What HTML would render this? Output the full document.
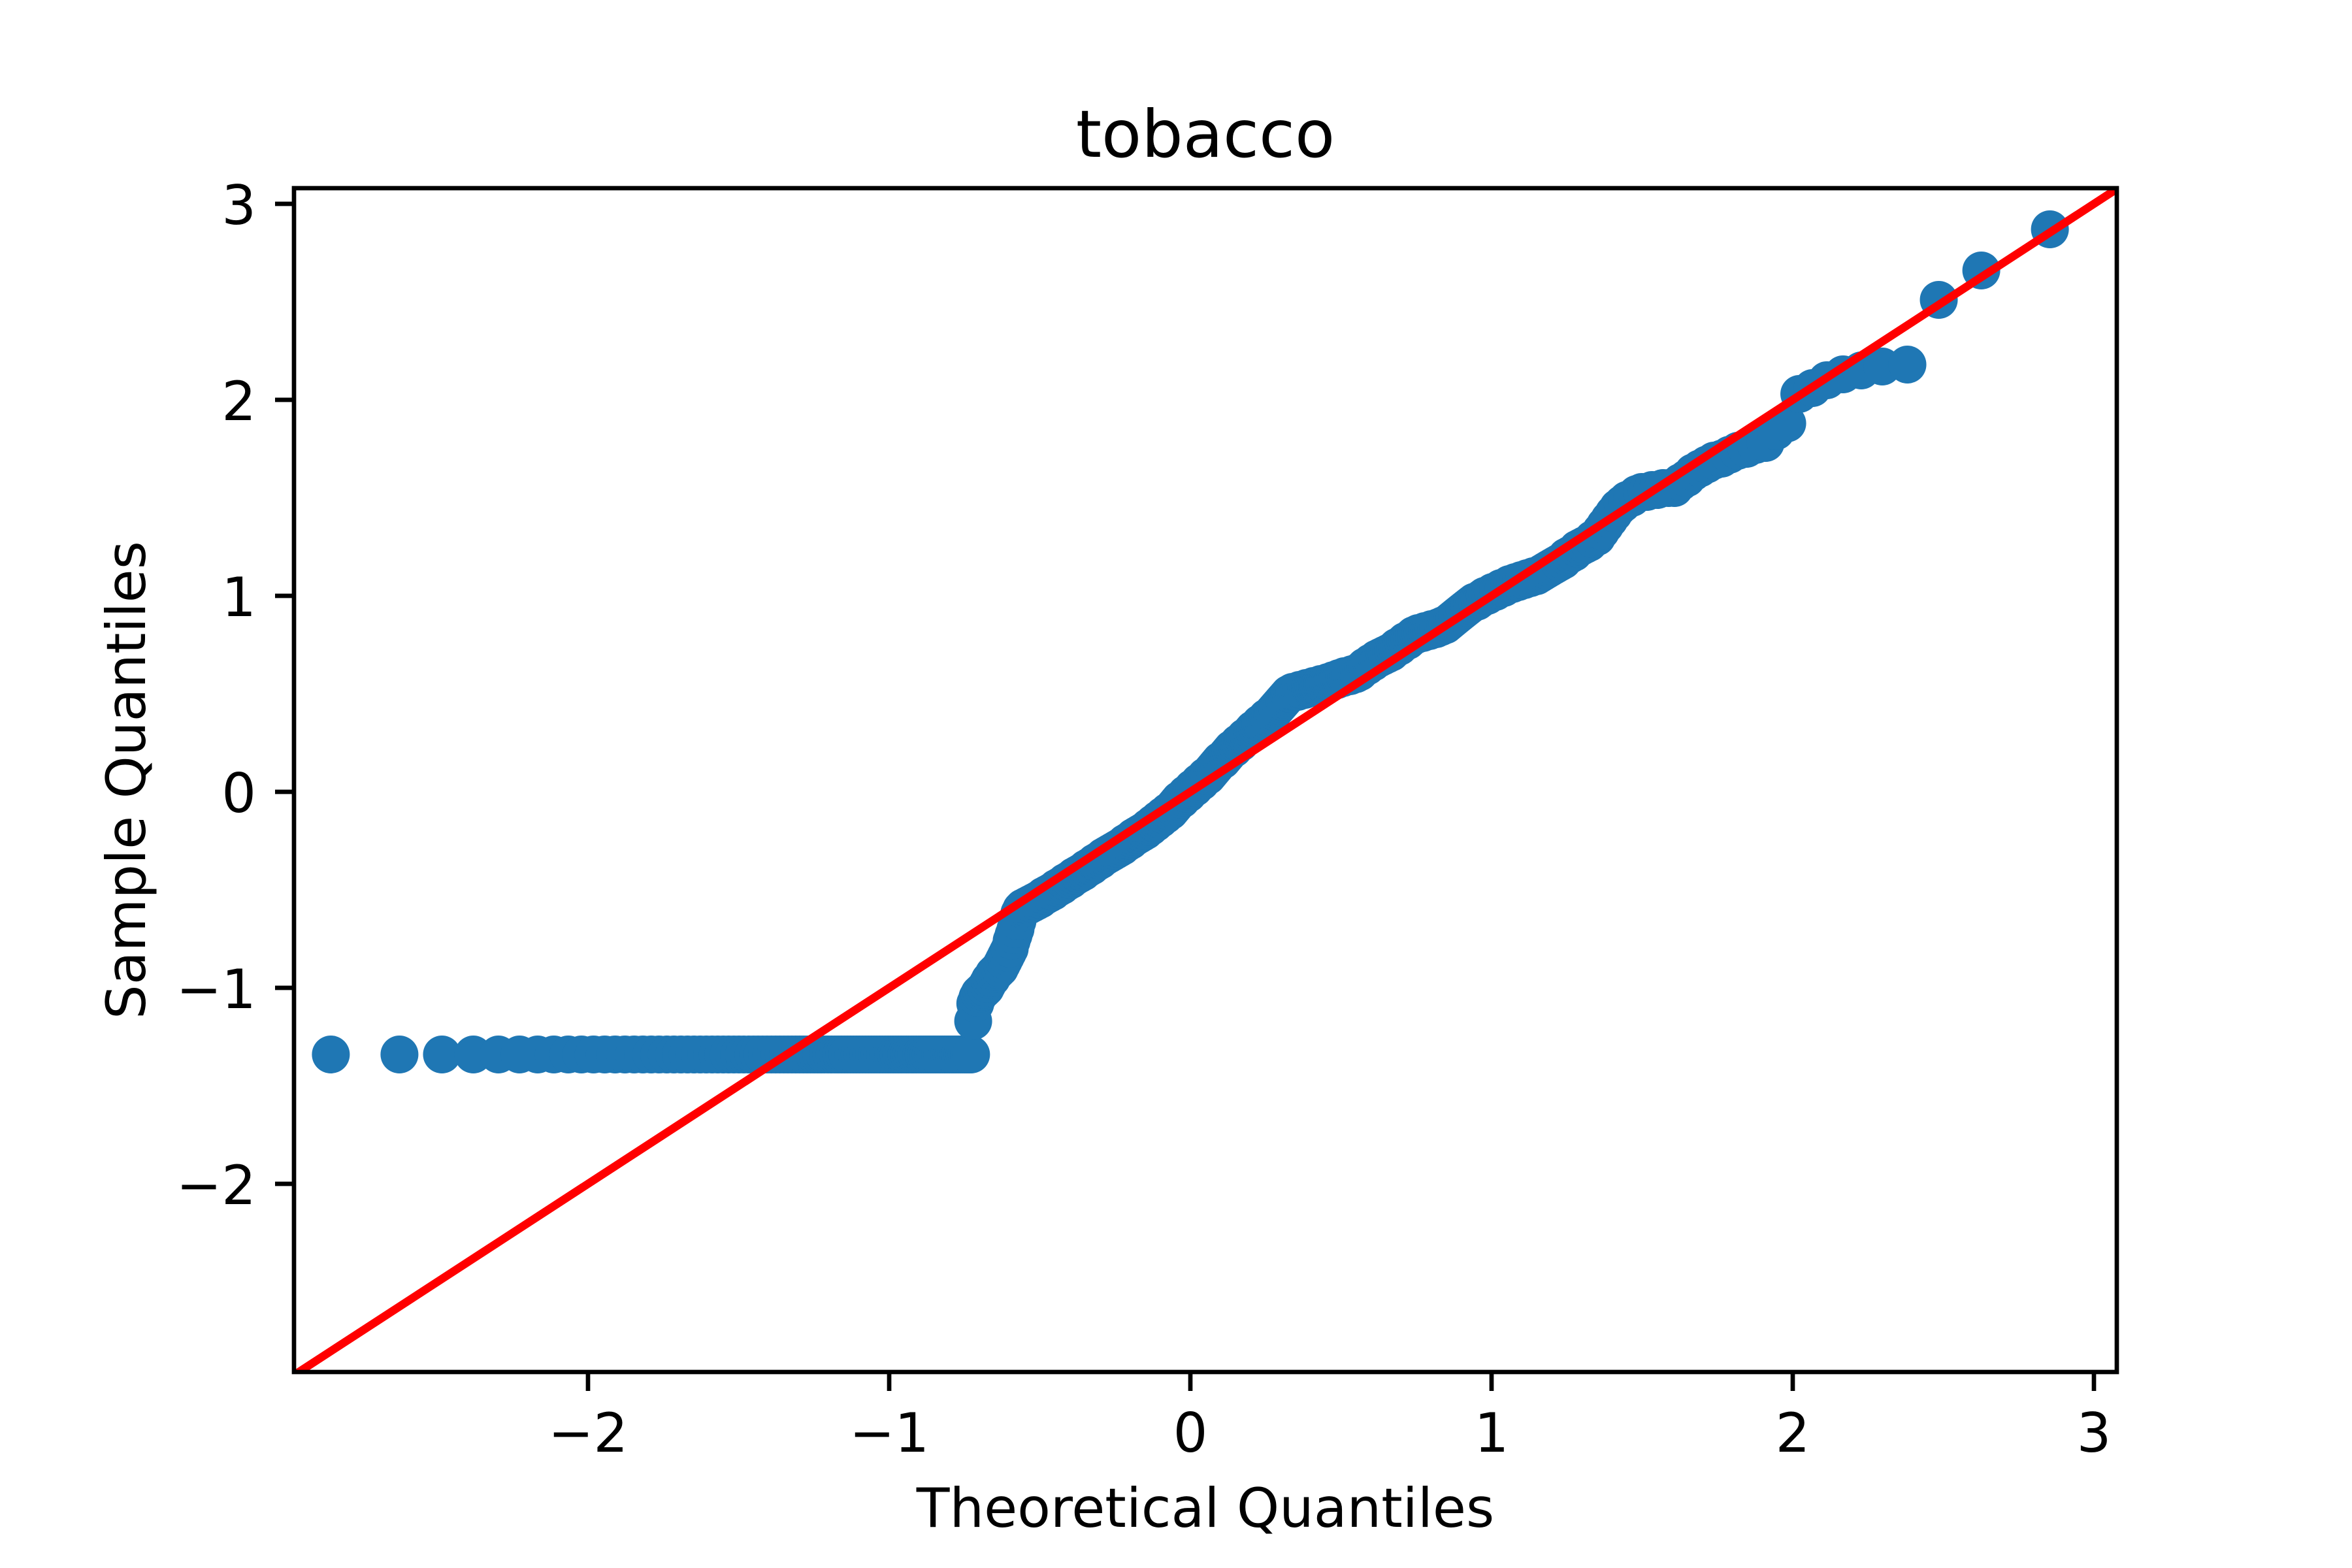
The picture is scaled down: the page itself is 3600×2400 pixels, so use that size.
<!DOCTYPE html>
<html><head><meta charset="utf-8"><style>
html,body{margin:0;padding:0;background:#fff;}
svg{display:block;}
text{font-family:"DejaVu Sans","Liberation Sans",sans-serif;fill:#000;}
</style></head><body>
<svg id="chart" width="3600" height="2400" viewBox="0 0 3600 2400" xmlns="http://www.w3.org/2000/svg">
<rect x="0" y="0" width="3600" height="2400" fill="#fff"/>
<defs><clipPath id="clip"><rect x="450" y="288" width="2790" height="1812"/></clipPath></defs>
<g id="marks" clip-path="url(#clip)"></g>
<g id="axes"></g>
<text x="1845" y="240" font-size="100" text-anchor="middle">tobacco</text>
<text x="1845" y="2337" font-size="83" text-anchor="middle">Theoretical Quantiles</text>
<text x="0" y="0" font-size="83" text-anchor="middle" transform="translate(222,1194) rotate(-90)">Sample Quantiles</text>
</svg>
<script>
const xTicks = [-2, -1, 0, 1, 2, 3];
const yTicks = [-2, -1, 0, 1, 2, 3];
const lineEnds = [-3.2, 3.2];
const sampleFlat = Array(108).fill(-1.34);
const sampleRest = [
-1.17,-1.08,-1.05,-1.03,-1.02,-1.01,-1.00,-0.98,-0.96,-0.95,-0.93,-0.92,-0.91,-0.90,
-0.88,-0.86,-0.84,-0.82,-0.80,-0.76,-0.73,-0.70,-0.66,-0.62,-0.60,
-0.59,-0.59,-0.58,-0.58,-0.57,-0.57,-0.56,-0.56,-0.55,-0.55,
-0.54,-0.53,-0.53,-0.52,-0.52,-0.51,-0.51,-0.50,
-0.49,-0.49,-0.48,-0.48,-0.47,-0.46,-0.46,-0.45,-0.45,-0.44,-0.43,-0.43,-0.42,-0.42,-0.41,-0.41,-0.40,
-0.39,-0.39,-0.38,-0.38,-0.37,-0.36,-0.36,-0.35,-0.35,-0.34,-0.33,-0.33,-0.32,-0.32,-0.31,-0.31,-0.30,-0.30,
-0.29,-0.29,-0.28,-0.28,-0.27,-0.26,-0.26,-0.25,-0.25,-0.24,-0.23,-0.23,-0.22,-0.22,-0.21,-0.21,-0.20,-0.20,
-0.19,-0.18,-0.18,-0.17,-0.16,-0.16,-0.15,-0.14,-0.14,-0.13,-0.12,-0.12,-0.11,-0.10,-0.10,
-0.09,-0.08,-0.07,-0.06,-0.05,-0.04,-0.04,-0.03,-0.02,-0.01,-0.01,0.00,
0.01,0.02,0.02,0.03,0.04,0.05,0.05,0.06,0.07,0.08,0.08,0.09,0.10,
0.11,0.12,0.13,0.14,0.15,0.16,0.16,0.17,0.18,0.19,0.20,
0.21,0.22,0.22,0.23,0.24,0.25,0.25,0.26,0.27,0.28,0.28,0.29,0.30,
0.31,0.32,0.32,0.33,0.34,0.35,0.35,0.36,0.37,0.38,0.38,0.39,0.40,
0.41,0.42,0.43,0.44,0.45,0.46,0.47,0.48,0.49,0.50,
0.50,0.51,0.51,0.51,0.51,0.52,0.52,0.52,0.52,0.53,0.53,0.53,0.53,0.54,0.54,0.54,0.54,0.55,0.55,0.55,0.55,
0.56,0.56,0.56,0.57,0.57,0.57,0.58,0.58,0.58,0.59,0.59,0.59,0.59,0.60,0.60,0.60,
0.61,0.61,0.62,0.63,0.64,0.64,0.65,0.66,0.66,0.67,0.68,0.68,0.69,0.69,0.70,0.70,
0.71,0.71,0.72,0.73,0.74,0.74,0.75,0.76,0.77,0.77,0.78,0.79,0.80,0.80,
0.81,0.81,0.81,0.82,0.82,0.82,0.83,0.83,0.83,0.84,0.84,0.85,0.85,
0.86,0.87,0.88,0.89,0.90,0.91,0.92,0.93,0.94,0.95,
0.96,0.97,0.97,0.98,0.99,1.00,1.00,1.01,1.02,1.02,1.03,1.04,1.04,1.05,
1.06,1.06,1.07,1.07,1.08,1.08,1.09,1.09,1.10,1.10,
1.11,1.12,1.13,1.14,1.15,1.16,1.17,1.18,1.20,
1.21,1.22,1.24,1.25,1.26,1.27,1.29,1.30,
1.33,1.36,1.39,1.42,1.45,
1.47,1.49,1.50,1.52,1.53,
1.53,1.54,1.54,1.55,1.55,1.55,
1.58,1.60,1.63,1.65,
1.67,1.69,1.70,1.72,
1.74,1.75,1.77,1.78,
1.84,1.88,
2.03,2.06,2.10,2.13,2.15,2.17,2.18,2.51,2.66,2.87
];
const sampleValues = sampleFlat.concat(sampleRest);

const NS = "http://www.w3.org/2000/svg";
function sx(v){ return 1822 + v*461; }
function sy(v){ return 1212 - v*300; }
function normInv(p){
  const a=[-3.969683028665376e+01,2.209460984245205e+02,-2.759285104469687e+02,1.383577518672690e+02,-3.066479806614716e+01,2.506628277459239e+00];
  const b=[-5.447609879822406e+01,1.615858368580409e+02,-1.556989798598866e+02,6.680131188771011e+01,-1.328068155288572e+01];
  const c=[-7.784894002430293e-03,-3.223964580411365e-01,-2.400758277161838e+00,-2.549732539343734e+00,4.374664141464968e+00,2.938163982698783e+00];
  const d=[7.784695709041462e-03,3.224671290700398e-01,2.445134137142996e+00,3.754408661907416e+00];
  const pl=0.02425;
  let q,r;
  if(p<pl){q=Math.sqrt(-2*Math.log(p));return (((((c[0]*q+c[1])*q+c[2])*q+c[3])*q+c[4])*q+c[5])/((((d[0]*q+d[1])*q+d[2])*q+d[3])*q+1);}
  if(p>1-pl){q=Math.sqrt(-2*Math.log(1-p));return -(((((c[0]*q+c[1])*q+c[2])*q+c[3])*q+c[4])*q+c[5])/((((d[0]*q+d[1])*q+d[2])*q+d[3])*q+1);}
  q=p-0.5;r=q*q;
  return (((((a[0]*r+a[1])*r+a[2])*r+a[3])*r+a[4])*r+a[5])*q/(((((b[0]*r+b[1])*r+b[2])*r+b[3])*r+b[4])*r+1);
}
const marks=document.getElementById('marks');
const axes=document.getElementById('axes');
const sorted=sampleValues.slice().sort((a,b)=>a-b);
const n=sorted.length;
sorted.forEach((v,i)=>{
  const c=document.createElementNS(NS,'circle');
  
  
  c.setAttribute('cx',sx(normInv((i+1)/(n+1))));
  c.setAttribute('cy',sy(v));
  c.setAttribute('r',29);
  c.setAttribute('fill','#1f77b4');
  marks.appendChild(c);
});
const ln=document.createElementNS(NS,'line');


ln.setAttribute('x1',sx(lineEnds[0]));ln.setAttribute('y1',sy(lineEnds[0]));
ln.setAttribute('x2',sx(lineEnds[1]));ln.setAttribute('y2',sy(lineEnds[1]));
ln.setAttribute('stroke','#ff0000');ln.setAttribute('stroke-width',12.5);
marks.appendChild(ln);

const frame=document.createElementNS(NS,'rect');


frame.setAttribute('x',450);frame.setAttribute('y',288);frame.setAttribute('width',2790);frame.setAttribute('height',1812);
frame.setAttribute('fill','none');frame.setAttribute('stroke','#000');frame.setAttribute('stroke-width',6.7);
axes.appendChild(frame);
function lbl(v){ return v<0 ? '\u2212'+Math.abs(v) : String(v); }
xTicks.forEach(v=>{
  const t=document.createElementNS(NS,'line');
  
  
  t.setAttribute('x1',sx(v));t.setAttribute('x2',sx(v));t.setAttribute('y1',2100);t.setAttribute('y2',2129);
  t.setAttribute('stroke','#000');t.setAttribute('stroke-width',6.7);
  axes.appendChild(t);
  const tx=document.createElementNS(NS,'text');
  
  
  tx.setAttribute('x',sx(v));tx.setAttribute('y',2222);
  tx.setAttribute('font-size',83);tx.setAttribute('text-anchor','middle');
  tx.textContent=lbl(v);
  axes.appendChild(tx);
});
yTicks.forEach(v=>{
  const t=document.createElementNS(NS,'line');
  
  
  t.setAttribute('x1',421);t.setAttribute('x2',450);t.setAttribute('y1',sy(v));t.setAttribute('y2',sy(v));
  t.setAttribute('stroke','#000');t.setAttribute('stroke-width',6.7);
  axes.appendChild(t);
  const tx=document.createElementNS(NS,'text');
  
  
  tx.setAttribute('x',392);tx.setAttribute('y',sy(v)+31);
  tx.setAttribute('font-size',83);tx.setAttribute('text-anchor','end');
  tx.textContent=lbl(v);
  axes.appendChild(tx);
});
</script>
</body></html>
